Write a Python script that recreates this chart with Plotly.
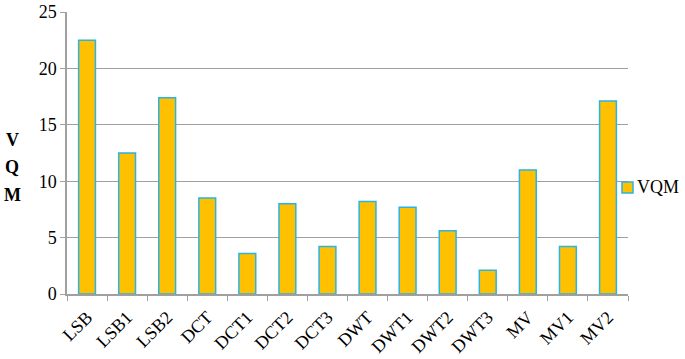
import plotly.graph_objects as go

categories = ["LSB", "LSB1", "LSB2", "DCT", "DCT1", "DCT2", "DCT3",
              "DWT", "DWT1", "DWT2", "DWT3", "MV", "MV1", "MV2"]
vqm = [22.5, 12.5, 17.4, 8.5, 3.6, 8.0, 4.2, 8.2, 7.7, 5.6, 2.1, 11.0, 4.2, 17.1]
y_ticks = [0, 5, 10, 15, 20, 25]
y_title_letters = ["V", "Q", "M"]
series_name = "VQM"

font_family = "Liberation Serif, serif"
bar_fill = "#FFC000"
bar_edge = "#29B3E8"

fig = go.Figure()
fig.add_trace(go.Bar(
    x=categories, y=vqm, name=series_name,
    marker=dict(color=bar_fill, line=dict(color=bar_edge, width=1.5)),
    width=0.42,
))

fig.update_layout(
    width=685, height=359,
    margin=dict(l=67, r=57, t=12, b=65),
    paper_bgcolor="white", plot_bgcolor="white",
    font=dict(family=font_family, size=18, color="black"),
    showlegend=False,
    xaxis=dict(
        type="category", tickangle=-45, automargin=False,
        showline=True, linecolor="#A0A0A0", linewidth=1.5,
        ticks="outside", tickson="boundaries", ticklen=5, tickcolor="#A0A0A0",
        ticklabelstandoff=4,
        showgrid=False,
        tickfont=dict(family=font_family, size=18, color="black"),
    ),
    yaxis=dict(
        range=[0, 25], tickvals=y_ticks, automargin=False,
        showline=True, linecolor="#A0A0A0", linewidth=1.5,
        ticks="outside", ticklen=5, tickcolor="#A0A0A0",
        showgrid=True, gridcolor="#A0A0A0", gridwidth=1.2,
        zeroline=False,
        tickfont=dict(family=font_family, size=18, color="black"),
    ),
)

# legend drawn as key square + label (keeps plot area width unchanged)
fig.add_shape(
    type="rect", xref="paper", yref="paper",
    x0=0.9893, x1=1.0089, y0=0.358, y1=0.397,
    fillcolor=bar_fill, line=dict(color=bar_edge, width=1.5),
)
fig.add_annotation(
    text=series_name, xref="paper", yref="paper", x=1.0125, y=0.379,
    xanchor="left", yanchor="middle", showarrow=False,
    font=dict(family=font_family, size=18, color="black"),
)

# stacked vertical y-axis title
for i, letter in enumerate(y_title_letters):
    fig.add_annotation(
        text="<b>%s</b>" % letter,
        xref="paper", yref="paper", x=-0.098, y=0.546 - i * 0.097,
        xanchor="center", yanchor="middle", showarrow=False,
        font=dict(family=font_family, size=18, color="black"),
    )

fig.write_html("out.html", config={"displayModeBar": False},
               post_script="document.body.style.margin='0';")
